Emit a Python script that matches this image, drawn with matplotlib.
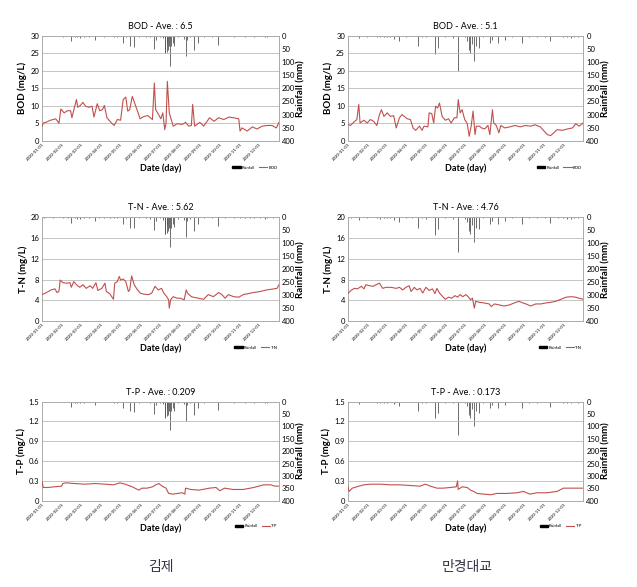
import numpy as np
import pandas as pd
import matplotlib
matplotlib.use("Agg")
import matplotlib.pyplot as plt
import matplotlib.dates as mdates
from matplotlib.patches import Patch
from matplotlib.lines import Line2D

plt.rcParams['font.family'] = ['Lato', 'DejaVu Sans', 'Noto Sans CJK KR']

START = pd.Timestamp('2020-01-01')

# rainfall (day of year offset, mm) - station 김제
rain_days_kj = [3, 10, 17, 25, 33, 40, 45, 50, 54, 59, 65, 72, 81, 88, 95, 104, 111, 116, 124, 130,
                136, 141, 150, 160, 166, 172, 175, 182, 186, 189, 190, 192, 193, 194, 196, 197,
                199, 202, 204, 210, 218, 221, 223, 228, 234, 240, 250, 262, 271, 282, 295, 305,
                313, 320, 326, 335, 344, 347, 356]
rain_mm_kj = [2, 1, 2, 1, 3, 2, 21, 5, 6, 8, 4, 3, 15, 2, 3, 2, 5, 4, 28, 3,
              40, 43, 4, 3, 6, 50, 15, 5, 10, 66, 64, 30, 60, 53, 40, 116,
              40, 28, 38, 6, 12, 78, 15, 6, 53, 28, 4, 3, 34, 2, 4, 2,
              5, 2, 4, 2, 6, 5, 2]

# rainfall - station 만경대교
rain_days_mg = [5, 17, 30, 45, 50, 56, 61, 66, 71, 79, 90, 100, 109, 115, 121, 135, 140, 150,
                163, 170, 181, 185, 188, 190, 192, 195, 198, 203, 210, 220, 224, 233, 244, 255,
                269, 280, 293, 305, 313, 325, 333, 340, 345, 350, 356]
rain_mm_mg = [2, 10, 3, 5, 6, 4, 5, 3, 12, 20, 3, 2, 40, 4, 6, 68, 47, 5,
              8, 135, 6, 20, 53, 66, 30, 97, 40, 47, 5, 28, 15, 28, 15, 3,
              28, 4, 5, 3, 21, 2, 4, 6, 7, 3, 4]

# BOD (mg/L) - 김제
bod_days_kj = [0, 2, 6, 13, 21, 24, 26, 29, 34, 39, 44, 46, 49, 53, 55, 59, 63, 67, 72, 77,
               80, 85, 89, 93, 96, 100, 106, 111, 116, 121, 125, 129, 132, 135, 139, 144, 148,
               151, 157, 163, 170, 173, 175, 178, 183, 186, 189, 191, 193, 196, 199, 202, 208,
               216, 221, 226, 230, 232, 235, 243, 249, 258, 265, 272, 280, 288, 295, 303, 305,
               308, 316, 324, 331, 339, 347, 354, 361, 365]
bod_kj = [4.2, 5.1, 5.3, 5.9, 6.3, 5.6, 5.0, 9.1, 8.0, 8.6, 8.6, 6.6, 8.9, 11.8, 9.6, 10.1, 11.0, 9.9, 9.6, 9.9,
          6.8, 10.6, 8.6, 8.9, 10.1, 6.6, 5.3, 4.4, 6.1, 5.9, 11.8, 12.5, 8.5, 8.9, 12.7, 10.1, 8.0,
          6.3, 7.0, 7.2, 6.1, 16.5, 8.9, 8.0, 6.3, 8.0, 3.2, 5.1, 17.0, 8.0, 6.1, 4.2, 4.9,
          4.7, 5.3, 4.2, 4.4, 10.4, 4.2, 5.3, 4.2, 6.6, 5.6, 6.6, 6.1, 6.8, 6.6, 6.3, 2.8,
          3.7, 2.8, 4.0, 3.4, 4.2, 4.4, 4.4, 3.7, 5.3]

# BOD (mg/L) - 만경대교
bod_days_mg = [0, 4, 9, 14, 17, 19, 25, 30, 35, 40, 45, 49, 52, 56, 61, 66, 71, 75, 80, 84,
               92, 97, 101, 105, 111, 115, 118, 124, 126, 130, 133, 136, 139, 142, 146, 151,
               156, 160, 165, 169, 171, 174, 177, 181, 185, 188, 191, 194, 197, 199, 204, 207,
               212, 217, 220, 224, 226, 230, 234, 237, 243, 251, 259, 267, 275, 283, 290, 298,
               303, 309, 314, 319, 324, 332, 340, 348, 353, 358, 362, 365]
bod_mg = [4.7, 4.4, 5.3, 6.1, 10.4, 5.1, 5.9, 5.1, 6.1, 5.6, 4.4, 7.5, 8.9, 7.0, 8.0, 7.0, 7.2, 3.7, 6.6, 7.5,
          6.3, 6.1, 3.7, 3.0, 4.2, 3.0, 4.2, 4.0, 8.0, 7.8, 5.1, 9.9, 9.4, 10.8, 7.0, 5.9,
          6.3, 5.1, 6.6, 6.6, 11.8, 8.0, 8.9, 6.1, 4.9, 1.3, 4.2, 8.5, 1.8, 4.2, 4.2, 3.7,
          3.4, 4.4, 1.8, 8.9, 5.1, 4.4, 2.3, 4.4, 3.7, 4.0, 4.4, 4.0, 4.4, 4.2, 4.6, 4.0,
          3.0, 1.8, 1.5, 2.3, 3.2, 3.0, 3.4, 3.7, 4.9, 4.2, 4.7, 5.3]

# T-N (mg/L) - 김제
tn_days_kj = [0, 7, 14, 20, 23, 26, 28, 32, 38, 43, 45, 49, 53, 58, 63, 68, 74, 78, 83, 86,
              92, 97, 99, 104, 110, 112, 116, 119, 121, 125, 129, 133, 135, 138, 142, 146, 151,
              156, 164, 169, 174, 179, 184, 188, 192, 195, 196, 198, 202, 208, 213, 219, 222,
              224, 230, 233, 241, 249, 256, 264, 272, 277, 282, 287, 295, 303, 310, 318, 326,
              336, 346, 357, 362, 365]
tn_kj = [5.1, 5.5, 6.0, 6.2, 5.5, 5.7, 7.9, 7.4, 7.3, 7.4, 6.5, 7.6, 7.0, 6.5, 7.0, 6.3, 6.8, 6.3, 7.4, 5.9,
         6.3, 7.3, 5.7, 5.3, 4.2, 7.3, 7.6, 8.6, 7.9, 8.1, 7.6, 5.7, 6.0, 8.7, 7.0, 6.2, 5.4,
         5.2, 5.1, 5.4, 6.7, 6.0, 6.3, 5.3, 4.7, 4.1, 2.5, 4.1, 4.7, 4.4, 4.4, 4.1, 6.0,
         5.4, 4.7, 4.6, 4.4, 4.2, 5.1, 4.7, 5.5, 5.1, 4.4, 5.1, 4.7, 4.6, 5.1, 5.3, 5.5,
         5.7, 6.0, 6.2, 6.3, 7.0]

# T-N (mg/L) - 만경대교
tn_days_mg = [0, 5, 10, 15, 21, 25, 28, 34, 39, 44, 49, 54, 59, 67, 75, 80, 85, 90, 95, 98,
              103, 107, 112, 116, 121, 126, 131, 135, 138, 142, 147, 151, 156, 161, 166, 170,
              174, 178, 183, 187, 190, 193, 196, 198, 204, 211, 219, 222, 227, 235, 242, 250,
              258, 265, 271, 276, 283, 291, 299, 307, 314, 322, 330, 338, 346, 353, 358, 365]
tn_mg = [5.3, 5.9, 6.3, 6.2, 6.7, 6.2, 7.0, 6.8, 6.7, 7.0, 7.3, 6.3, 6.5, 6.5, 6.3, 6.5, 6.0, 6.5, 6.8, 5.7,
         6.5, 6.0, 6.3, 5.4, 6.5, 5.9, 6.2, 5.3, 6.3, 5.4, 4.7, 4.2, 4.6, 4.4, 4.9, 4.6,
         5.1, 4.7, 5.1, 4.6, 4.1, 4.4, 2.5, 3.8, 3.6, 3.5, 3.3, 2.8, 3.3, 3.1, 2.9, 3.1,
         3.5, 3.8, 3.5, 3.3, 2.9, 3.3, 3.3, 3.5, 3.6, 3.8, 4.2, 4.6, 4.7, 4.6, 4.4, 4.2]

# T-P (mg/L) - 김제
tp_days_kj = [0, 2, 9, 19, 30, 32, 37, 50, 66, 82, 97, 110, 120, 128, 139, 149, 154, 162, 170,
              175, 180, 185, 191, 195, 201, 209, 216, 220, 221, 229, 242, 258, 268, 274, 281,
              294, 310, 326, 341, 352, 359, 365]
tp_kj = [0.29, 0.20, 0.20, 0.21, 0.22, 0.26, 0.27, 0.26, 0.25, 0.26, 0.25, 0.24, 0.27, 0.25, 0.21, 0.16,
         0.19, 0.19, 0.21, 0.24, 0.26, 0.22, 0.19, 0.11, 0.10, 0.11, 0.12, 0.10, 0.19, 0.17, 0.16,
         0.19, 0.20, 0.15, 0.19, 0.17, 0.17, 0.20, 0.24, 0.24, 0.22, 0.22]

# T-P (mg/L) - 만경대교
tp_days_mg = [0, 2, 7, 17, 25, 35, 51, 66, 81, 97, 112, 120, 128, 138, 148, 159, 168, 170, 171,
              177, 185, 190, 195, 200, 210, 221, 231, 246, 262, 272, 282, 293, 308, 324, 334,
              344, 365]
tp_mg = [0.22, 0.14, 0.19, 0.22, 0.24, 0.25, 0.25, 0.24, 0.24, 0.23, 0.22, 0.25, 0.22, 0.19, 0.19, 0.20,
         0.21, 0.30, 0.17, 0.21, 0.20, 0.16, 0.14, 0.11, 0.10, 0.09, 0.11, 0.11, 0.12, 0.14, 0.10,
         0.12, 0.12, 0.14, 0.19, 0.19, 0.19]

LINE_RED = '#C0504D'


def to_dates(days):
    return START + pd.to_timedelta(days, unit='D')


def draw_panel(ax, days, vals, rdays, rmm, name, ave, ymax, ystep, fmt):
    ax2 = ax.twinx()
    ax2.vlines(to_dates(rdays), 0, rmm, color='#555555', linewidth=0.6, zorder=1)
    ax2.set_ylim(400, 0)
    ax2.set_yticks(np.arange(0, 401, 50))
    ax2.set_ylabel('Rainfall (mm)', fontsize=7, fontweight='bold', labelpad=1)

    ax.plot(to_dates(days), vals, color=LINE_RED, linewidth=0.8, zorder=3)
    ax.set_ylim(0, ymax)
    ax.set_yticks(np.arange(0, ymax + ystep / 2, ystep))
    ax.yaxis.set_major_formatter(plt.FuncFormatter(lambda v, p: fmt(v)))
    ax.grid(axis='y', color='#BBBBBB', linewidth=0.6)
    ax.set_axisbelow(True)
    ax.set_xlim(START, pd.Timestamp('2020-12-31'))
    ax.xaxis.set_major_locator(mdates.MonthLocator())
    ax.xaxis.set_major_formatter(mdates.DateFormatter('%Y-%m-%d'))
    ax.set_xlabel('Date (day)', fontsize=6.5, fontweight='bold', labelpad=1)
    ax.set_ylabel(f'{name} (mg/L)', fontsize=7, fontweight='bold', labelpad=2)
    ax.set_title(f'{name} - Ave. : {ave}', fontsize=6.5, pad=5)

    for a in (ax, ax2):
        a.tick_params(length=0, labelsize=5.5, pad=2)
        for s in a.spines.values():
            s.set_color('#AAAAAA')
            s.set_linewidth(0.6)
    ax.tick_params(axis='x', labelsize=3.2, labelrotation=45, pad=1)
    for lab in ax.get_xticklabels():
        lab.set_ha('right')
        lab.set_rotation_mode('anchor')
    ax.set_zorder(ax2.get_zorder() + 1)
    ax.patch.set_visible(False)

    handles = [Patch(color='black'), Line2D([], [], color=LINE_RED, linewidth=0.8)]
    ax.legend(handles, ['Rainfall', name], loc='upper right', bbox_to_anchor=(1.01, -0.2),
              ncol=2, fontsize=3, frameon=False, handlelength=2, handleheight=0.5,
              columnspacing=1.0, handletextpad=0.3)


fig = plt.figure(figsize=(6.37, 5.87), dpi=100)

rows = [
    # name, ymax, step, formatter, bottom, height, left station, right station
    ('BOD', 30, 5, lambda v: f'{v:.0f}', 0.760, 0.179, bod_days_kj, bod_kj, '6.5', bod_days_mg, bod_mg, '5.1'),
    ('T-N', 20, 4, lambda v: f'{v:.0f}', 0.453, 0.177, tn_days_kj, tn_kj, '5.62', tn_days_mg, tn_mg, '4.76'),
    ('T-P', 1.5, 0.3, lambda v: '0' if v == 0 else f'{v:.1f}', 0.147, 0.169, tp_days_kj, tp_kj, '0.209',
     tp_days_mg, tp_mg, '0.173'),
]

for name, ymax, step, fmt, bottom, height, dl, vl, al, dr, vr, ar in rows:
    axl = fig.add_axes([0.066, bottom, 0.372, height])
    draw_panel(axl, dl, vl, rain_days_kj, rain_mm_kj, name, al, ymax, step, fmt)
    axr = fig.add_axes([0.546, bottom, 0.370, height])
    draw_panel(axr, dr, vr, rain_days_mg, rain_mm_mg, name, ar, ymax, step, fmt)

fig.text(0.252, 0.034, '김제', fontsize=10, family=['Noto Sans CJK KR'], color='#333344',
         ha='center', va='center')
fig.text(0.733, 0.034, '만경대교', fontsize=10, family=['Noto Sans CJK KR'], color='#333344',
         ha='center', va='center')

fig.savefig('out.png', dpi=100, facecolor='white')
